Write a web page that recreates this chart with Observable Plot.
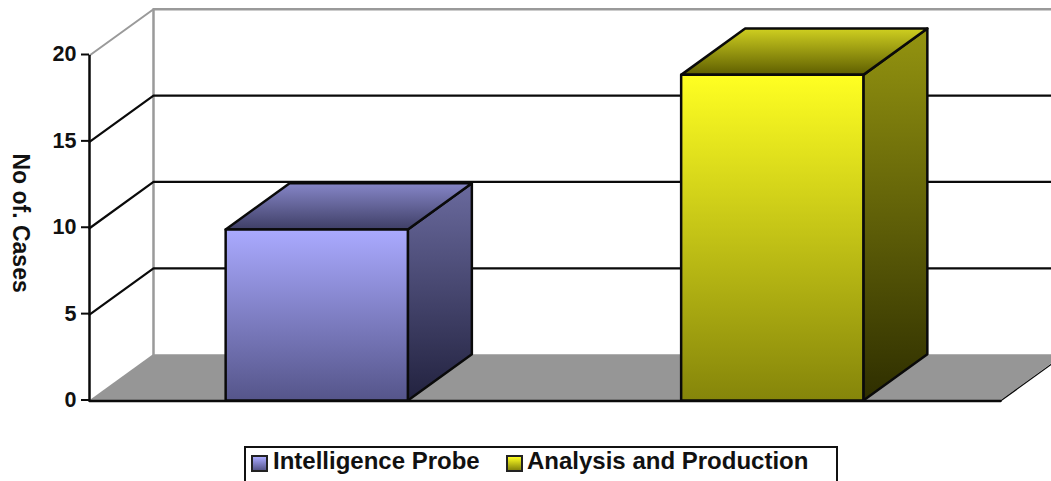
<!DOCTYPE html>
<html>
<head>
<meta charset="utf-8">
<script src="https://cdn.jsdelivr.net/npm/d3@7"></script>
<script src="https://cdn.jsdelivr.net/npm/@observablehq/plot@0.6"></script>
<style>
html,body{margin:0;padding:0;background:#fff;overflow:hidden;}
#legend{position:absolute;left:244px;top:446px;width:590px;height:33px;border:2px solid #111;background:#fff;
  font:bold 24px "Liberation Sans",Arial,sans-serif;color:#111;box-sizing:content-box;}
#legend span{position:absolute;top:0px;line-height:26px;white-space:nowrap;}
#legend i{position:absolute;top:7px;width:13px;height:13px;border:2px solid #222;}
</style>
</head>
<body>
<div id="chart"></div>
<div id="legend"></div>
<script>
const categories = ["Intelligence Probe", "Analysis and Production"];
const values = [9.9, 18.85];
const tickValues = [0, 5, 10, 15, 20];
const axisLabel = "No of. Cases";

const faceColors = [
  {front: ["#aaaaff", "#55558a"], side: ["#6a6a9e", "#22223f"], top: ["#8686c8", "#3f3f66"]},
  {front: ["#ffff22", "#85850a"], side: ["#949410", "#2e2e00"], top: ["#cfcf20", "#5e5e00"]}
];

const depthX = 0.1405;   // depth of the 3-D box, in x units
const depthY = 2.68;     // depth of the 3-D box, in y units
const slots = 2;
const barWidth = 0.4;
const yMax = 20;

function gradients() {
  const defs = d3.create("svg:defs");
  faceColors.forEach((c, i) => {
    for (const face of ["front", "side", "top"]) {
      const g = defs.append("linearGradient").attr("id", `${face}${i}`)
        .attr("x1", 0).attr("y1", 0).attr("x2", 0).attr("y2", 1);
      g.append("stop").attr("offset", "0%").attr("stop-color", c[face][0]);
      g.append("stop").attr("offset", "100%").attr("stop-color", c[face][1]);
    }
  });
  return defs.node();
}

const ink = "#0a0a0a", wall = "#9a9a9a";
const marks = [gradients];

// floor
marks.push(Plot.areaX([{y: 0, a: 0, b: slots}, {y: depthY, a: depthX, b: slots + depthX}],
  {y: "y", x1: "a", x2: "b", fill: "#969696"}));
// back wall edges
marks.push(Plot.line([[depthX, depthY], [depthX, yMax + depthY], [slots + depthX, yMax + depthY]],
  {x: d => d[0], y: d => d[1], stroke: wall, strokeWidth: 2.5}));
marks.push(Plot.line([[0, yMax], [depthX, yMax + depthY]],
  {x: d => d[0], y: d => d[1], stroke: wall, strokeWidth: 2}));
// gridlines
for (const t of tickValues.filter(t => t > 0 && t < yMax)) {
  marks.push(Plot.line([[0, t], [depthX, t + depthY], [slots + depthX, t + depthY]],
    {x: d => d[0], y: d => d[1], stroke: ink, strokeWidth: 2.2}));
}
// axes
marks.push(Plot.ruleX([0], {y1: 0, y2: yMax, stroke: ink, strokeWidth: 2.5}));
marks.push(Plot.axisY({
  ticks: tickValues, tickSize: 8, tickPadding: 5, label: null, anchor: "left",
  fontSize: 21.5, fontWeight: "bold", stroke: ink, strokeWidth: 2, fill: "#111",
  textStroke: "none", dy: -1,
  tickFormat: d3.format("d")
}));
marks.push(Plot.line([[0, 0], [slots, 0]],
  {x: d => d[0], y: d => d[1], stroke: ink, strokeWidth: 2.5}));
marks.push(Plot.line([[slots, 0], [slots + depthX, depthY]],
  {x: d => d[0], y: d => d[1], stroke: ink, strokeWidth: 1.3}));

// bars
categories.forEach((name, i) => {
  const v = values[i];
  const l = i + 0.5 - barWidth / 2, r = i + 0.5 + barWidth / 2;
  const edge = {stroke: ink, strokeWidth: 2.5, strokeLinejoin: "round"};
  marks.push(Plot.area([{x: r, a: 0, b: v}, {x: r + depthX, a: depthY, b: v + depthY}],
    {x1: "x", y1: "a", y2: "b", fill: `url(#side${i})`, ...edge}));
  marks.push(Plot.areaX([{y: v + depthY, a: l + depthX, b: r + depthX}, {y: v, a: l, b: r}],
    {y: "y", x1: "a", x2: "b", fill: `url(#top${i})`, ...edge}));
  marks.push(Plot.rect([{l, r, v}],
    {x1: "l", x2: "r", y1: 0, y2: "v", fill: `url(#front${i})`, ...edge}));
});

// rotated axis title
marks.push(Plot.text([axisLabel], {
  x: -0.151, y: 10.3, text: d => d, rotate: 90,
  fontSize: 23, fontWeight: "bold", fill: "#111"
}));

const chart = Plot.plot({
  width: 1051, height: 440,
  marginLeft: 89, marginRight: 51, marginTop: 55, marginBottom: 39.5,
  style: {fontFamily: '"Liberation Sans", Arial, sans-serif', background: "#fff"},
  x: {domain: [0, slots], axis: null},
  y: {domain: [0, yMax], axis: null},
  marks
});
document.getElementById("chart").appendChild(chart);

// legend
const legendX = [[5, 27], [260, 281]];
const legend = document.getElementById("legend");
categories.forEach((name, i) => {
  const sw = document.createElement("i");
  sw.style.left = legendX[i][0] + "px";
  sw.style.background = `linear-gradient(${faceColors[i].front[0]}, ${faceColors[i].front[1]})`;
  legend.appendChild(sw);
  const t = document.createElement("span");
  t.style.left = legendX[i][1] + "px";
  t.textContent = name;
  legend.appendChild(t);
});
</script>
</body>
</html>
